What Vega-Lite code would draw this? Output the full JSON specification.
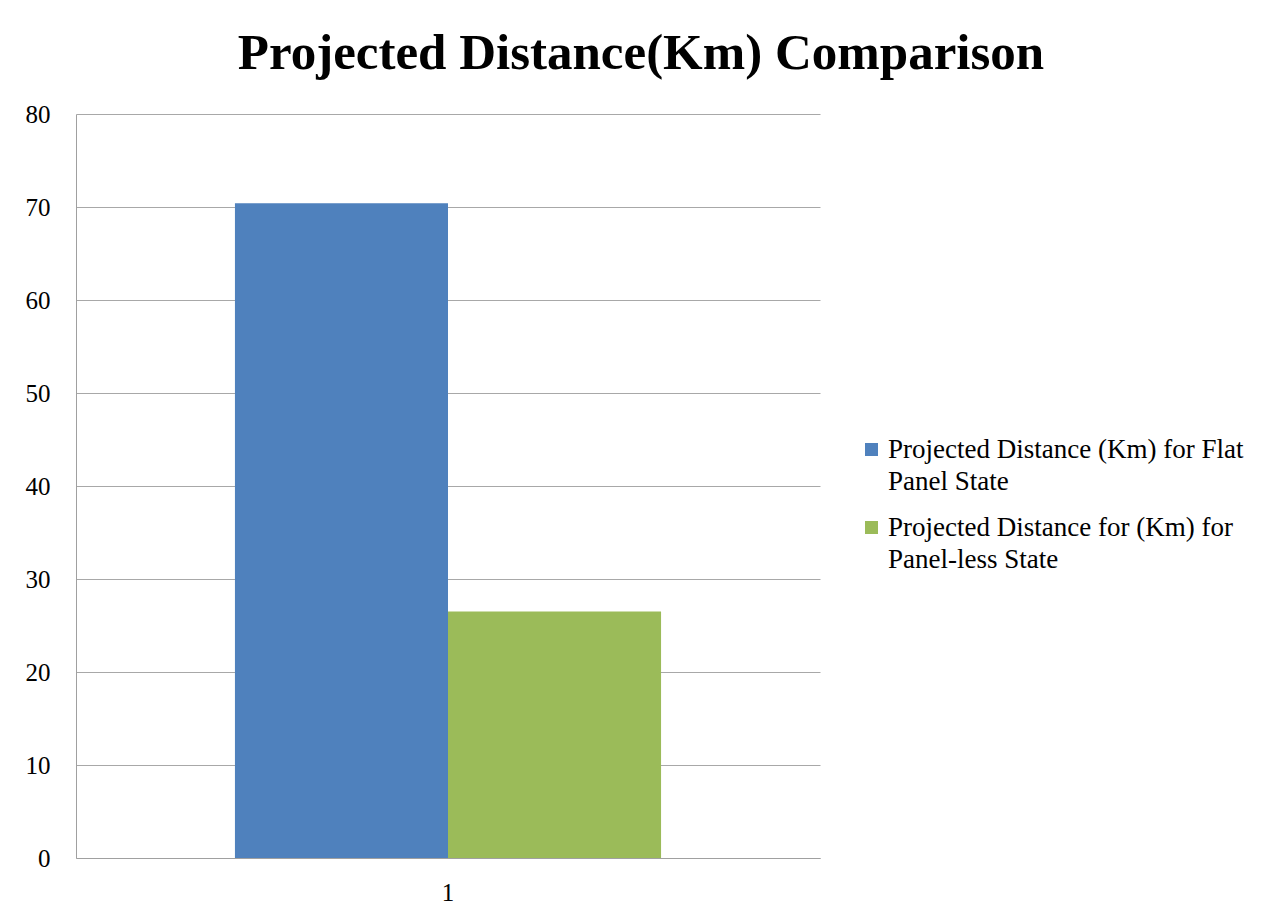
{
  "$schema": "https://vega.github.io/schema/vega-lite/v6.json",
  "width": 744,
  "height": 744,
  "autosize": {"type": "none"},
  "padding": {"left": 76, "top": 114, "right": 457, "bottom": 63},
  "background": "white",
  "title": {
    "text": "Projected Distance(Km) Comparison",
    "font": "Liberation Serif",
    "fontSize": 51,
    "fontWeight": "bold",
    "color": "black",
    "anchor": "middle",
    "dx": 193,
    "offset": 22
  },
  "data": {
    "values": [
      {"category": "1", "series": "Projected Distance (Km) for Flat Panel State", "value": 70.4},
      {"category": "1", "series": "Projected Distance for (Km) for Panel-less State", "value": 26.5}
    ]
  },
  "mark": {"type": "bar"},
  "encoding": {
    "x": {
      "field": "category",
      "type": "nominal",
      "scale": {"paddingInner": 0, "paddingOuter": 0.373},
      "axis": {
        "title": null,
        "labelAngle": 0,
        "ticks": false,
        "domainColor": "#a0a0a0",
        "labelFont": "Liberation Serif",
        "labelFontSize": 25,
        "labelColor": "black",
        "labelPadding": 22
      }
    },
    "xOffset": {
      "field": "series",
      "type": "nominal",
      "sort": ["Projected Distance (Km) for Flat Panel State", "Projected Distance for (Km) for Panel-less State"]
    },
    "y": {
      "field": "value",
      "type": "quantitative",
      "scale": {"domain": [0, 80]},
      "axis": {
        "title": null,
        "values": [0, 10, 20, 30, 40, 50, 60, 70, 80],
        "ticks": false,
        "domainColor": "#a0a0a0",
        "gridColor": "#a8a8a8",
        "labelFont": "Liberation Serif",
        "labelFontSize": 25,
        "labelColor": "black",
        "labelPadding": 26
      }
    },
    "color": {
      "field": "series",
      "type": "nominal",
      "scale": {
        "domain": ["Projected Distance (Km) for Flat Panel State", "Projected Distance for (Km) for Panel-less State"],
        "range": ["#4F81BD", "#9BBB59"]
      },
      "legend": {
        "title": null,
        "orient": "none",
        "legendX": 782,
        "legendY": 322,
        "symbolType": "square",
        "symbolSize": 169,
        "symbolStrokeWidth": 0,
        "labelFont": "Liberation Serif",
        "labelFontSize": 27,
        "labelColor": "black",
        "labelLimit": 420,
        "labelOffset": 3,
        "rowPadding": 18,
        "labelExpr": "datum.label == 'Projected Distance (Km) for Flat Panel State' ? ['Projected Distance (Km) for Flat', 'Panel State'] : ['Projected Distance for (Km) for', 'Panel-less State']",
        "encoding": {"labels": {"lineHeight": {"value": 32}}}
      }
    }
  },
  "config": {"view": {"stroke": null}}
}
